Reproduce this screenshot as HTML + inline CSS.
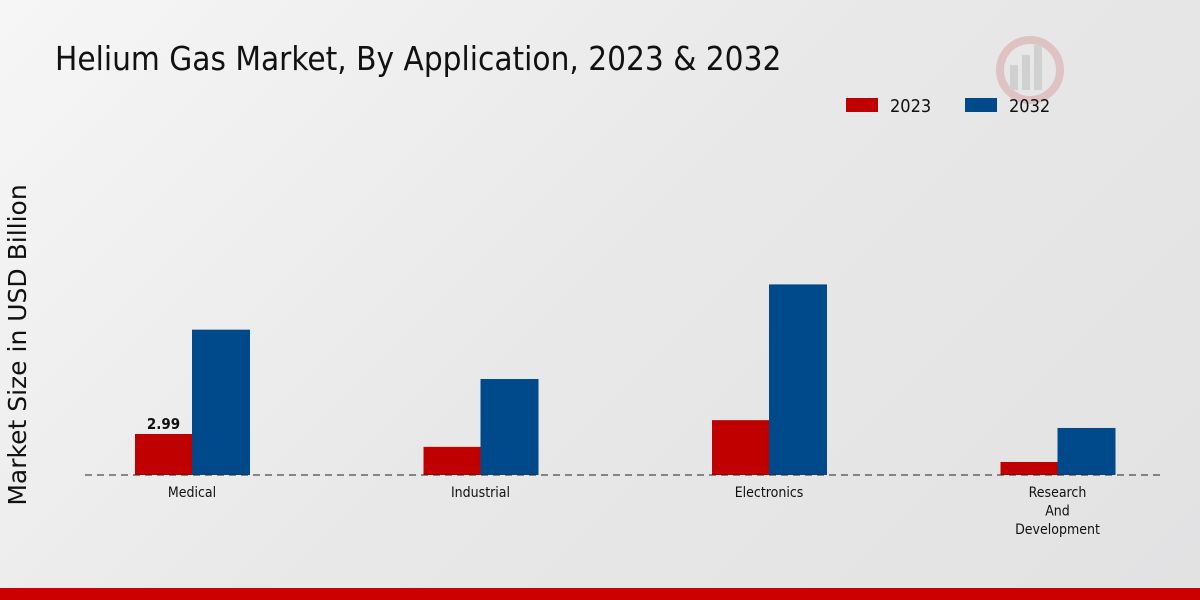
<!DOCTYPE html>
<html><head><meta charset="utf-8"><style>
html,body{margin:0;padding:0;width:1200px;height:600px;overflow:hidden;font-family:"DejaVu Sans Condensed","Liberation Sans",sans-serif;}
body{background:linear-gradient(135deg,#f6f6f6 0%,#e8e8e8 50%,#e2e2e3 100%);}
</style></head><body>
<svg width="1200" height="600" xmlns="http://www.w3.org/2000/svg">
<text x="55" y="70" font-size="33" fill="#111" font-family="DejaVu Sans Condensed, Liberation Sans, sans-serif">Helium Gas Market, By Application, 2023 &amp; 2032</text>
<g opacity="0.5">
<circle cx="1030" cy="70" r="30" fill="none" stroke="#d9a0a0" stroke-width="8"/>
<rect x="1010" y="65" width="8" height="25" fill="#bbb"/><rect x="1022" y="55" width="8" height="35" fill="#bbb"/><rect x="1034" y="45" width="8" height="45" fill="#bbb"/>
</g>
<g>
<rect x="846" y="98" width="32" height="14" fill="#c00000"/>
<text x="890" y="112" font-size="18" fill="#111">2023</text>
<rect x="965" y="98" width="32" height="14" fill="#004a8b"/>
<text x="1009" y="112" font-size="18" fill="#111">2032</text>
</g>
<text transform="translate(26,345) rotate(-90)" text-anchor="middle" font-size="25" fill="#111" font-family="DejaVu Sans, sans-serif">Market Size in USD Billion</text>
<g id="plot"></g>
<line x1="85" y1="475" x2="1165" y2="475" stroke="#222" stroke-dasharray="7,5" stroke-width="1"/>
<rect x="0" y="588" width="1200" height="12" fill="#cc0000"/>
</svg>
<script>
const categories=[["Medical"],["Industrial"],["Electronics"],["Research","And","Development"]];
const values2023=[2.99,2.05,4.0,0.95];
const values2032=[10.6,7.0,13.9,3.43];
const labels2023=["2.99","","",""];
const NS="http://www.w3.org/2000/svg";
const plot=document.getElementById('plot');
const base=475, scale=41/2.99;
const xc=i=>192+i*288.5;
const y=v=>base-v*scale;
function rect(x,yy,w,h,fill,name){const r=document.createElementNS(NS,'rect');r.setAttribute('x',x);r.setAttribute('y',yy);r.setAttribute('width',w);r.setAttribute('height',h);r.setAttribute('fill',fill);


plot.appendChild(r);}
categories.forEach((c,i)=>{
rect(xc(i)-57,y(values2023[i]),57,base-y(values2023[i]),'#c00000','bar-2023');
rect(xc(i),y(values2032[i]),58,base-y(values2032[i]),'#004a8b','bar-2032');
c.forEach((line,j)=>{const t=document.createElementNS(NS,'text');t.setAttribute('x',xc(i));t.setAttribute('y',497+j*18.5);t.setAttribute('text-anchor','middle');t.setAttribute('font-size','14');t.setAttribute('fill','#111');t.textContent=line;


plot.appendChild(t);});
if(labels2023[i]){const t=document.createElementNS(NS,'text');t.setAttribute('x',xc(i)-28.5);t.setAttribute('y',y(values2023[i])-5);t.setAttribute('text-anchor','middle');t.setAttribute('font-size','15');t.setAttribute('font-weight','bold');t.setAttribute('fill','#111');t.textContent=labels2023[i];


plot.appendChild(t);}
});
</script>
</body></html>
